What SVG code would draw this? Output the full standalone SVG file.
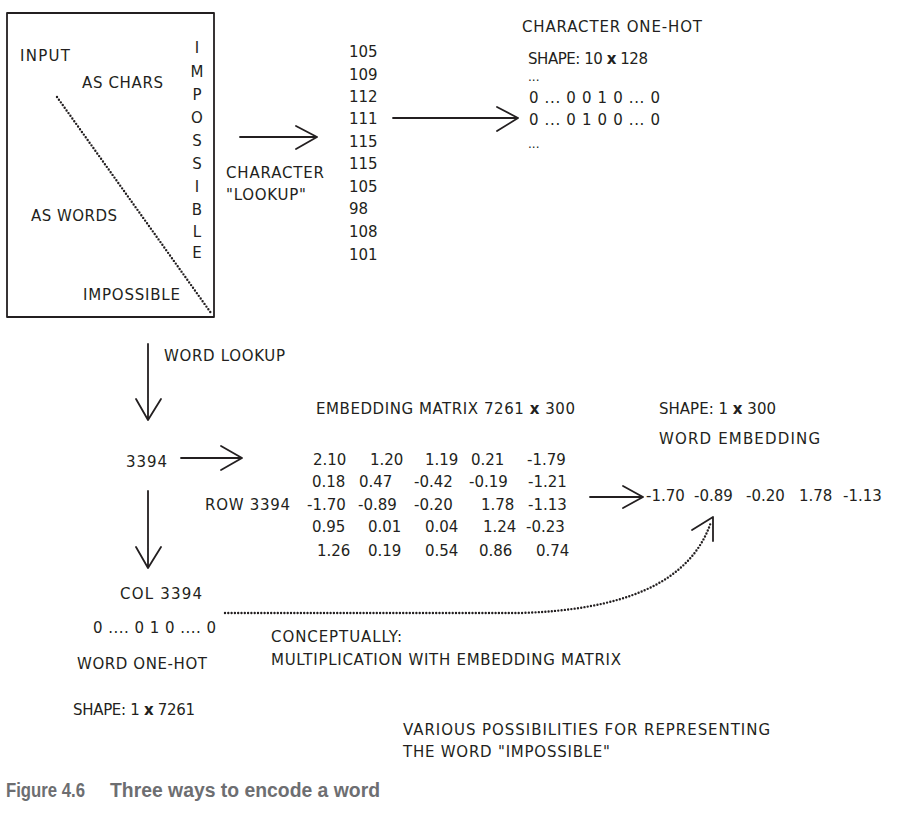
<svg xmlns="http://www.w3.org/2000/svg" width="902" height="814" viewBox="0 0 902 814">
<style>
.t{font-family:"DejaVu Sans","Liberation Sans",sans-serif;font-size:15px;fill:#231f20}
.m{text-anchor:middle}
.d{font-size:12px}
.ln{stroke:#231f20;stroke-width:1.8;fill:none;stroke-linecap:round;stroke-linejoin:round}
.dot{stroke:#231f20;stroke-width:2.4;fill:none;stroke-linecap:round;stroke-dasharray:0 3.3}
.cap{font-family:"Liberation Sans",Arial,sans-serif;font-weight:bold;font-size:20px;fill:#6d6e71}
.b{font-weight:bold}
</style>
<rect width="902" height="814" fill="#ffffff"/>

<g id="input-box">
  <rect x="7" y="13" width="207" height="304" class="ln" stroke-width="2.2"/>
  <path d="M57,97 L211,313" class="dot"/>
  <text class="t" x="20" y="61" textLength="50">INPUT</text>
  <text class="t" x="82" y="88" textLength="81">AS CHARS</text>
  <text class="t" x="31" y="221" textLength="86">AS WORDS</text>
  <text class="t" x="83" y="300" textLength="97">IMPOSSIBLE</text>
  <g class="t m">
    <text x="197" y="53">I</text>
    <text x="197" y="77">M</text>
    <text x="197" y="100">P</text>
    <text x="197" y="123">O</text>
    <text x="197" y="146">S</text>
    <text x="197" y="169">S</text>
    <text x="197" y="192">I</text>
    <text x="197" y="215">B</text>
    <text x="197" y="237">L</text>
    <text x="197" y="258">E</text>
  </g>
</g>

<g id="char-lookup-label">
  <text class="t" x="226" y="178" textLength="98">CHARACTER</text>
  <text class="t" x="226" y="200" textLength="80">"LOOKUP"</text>
</g>

<g id="char-codes" class="t">
  <text x="349" y="57">105</text>
  <text x="349" y="80">109</text>
  <text x="349" y="102">112</text>
  <text x="349" y="124">111</text>
  <text x="349" y="147">115</text>
  <text x="349" y="169">115</text>
  <text x="349" y="192">105</text>
  <text x="349" y="214">98</text>
  <text x="349" y="237">108</text>
  <text x="349" y="260">101</text>
</g>

<g id="char-one-hot">
  <text class="t" x="522" y="32" textLength="180">CHARACTER ONE-HOT</text>
  <text class="t" x="528" y="64" textLength="120">SHAPE: 10 <tspan class="b">x</tspan> 128</text>
  <text class="t d" x="528" y="81">...</text>
  <text class="t" x="529" y="103" textLength="131">0 ... 0 0 1 0 ... 0</text>
  <text class="t" x="529" y="125" textLength="131">0 ... 0 1 0 0 ... 0</text>
  <text class="t d" x="528" y="148">...</text>
</g>

<g id="word-lookup">
  <text class="t" x="164" y="361" textLength="121">WORD LOOKUP</text>
</g>

<g id="word-index">
  <text class="t" x="126" y="467" textLength="41">3394</text>
</g>

<g id="embedding-matrix" class="t">
  <text x="316" y="414" textLength="259">EMBEDDING MATRIX 7261 <tspan class="b">x</tspan> 300</text>
  <text x="205" y="510" textLength="85">ROW 3394</text>
  <text x="313" y="465">2.10</text><text x="370" y="465">1.20</text><text x="425" y="465">1.19</text><text x="471" y="465">0.21</text><text x="527" y="465">-1.79</text>
  <text x="312" y="487">0.18</text><text x="359" y="487">0.47</text><text x="414" y="487">-0.42</text><text x="469" y="487">-0.19</text><text x="528" y="487">-1.21</text>
  <text x="307" y="510">-1.70</text><text x="358" y="510">-0.89</text><text x="414" y="510">-0.20</text><text x="481" y="510">1.78</text><text x="528" y="510">-1.13</text>
  <text x="312" y="532">0.95</text><text x="368" y="532">0.01</text><text x="425" y="532">0.04</text><text x="483" y="532">1.24</text><text x="526" y="532">-0.23</text>
  <text x="317" y="556">1.26</text><text x="368" y="556">0.19</text><text x="425" y="556">0.54</text><text x="479" y="556">0.86</text><text x="536" y="556">0.74</text>
</g>

<g id="word-embedding" class="t">
  <text x="659" y="414" textLength="117">SHAPE: 1 <tspan class="b">x</tspan> 300</text>
  <text x="659" y="444" textLength="161">WORD EMBEDDING</text>
  <text x="646" y="501">-1.70</text>
  <text x="694" y="501">-0.89</text>
  <text x="746" y="501">-0.20</text>
  <text x="799" y="501">1.78</text>
  <text x="843" y="501">-1.13</text>
</g>

<g id="word-one-hot" class="t">
  <text x="120" y="599" textLength="82">COL 3394</text>
  <text x="93" y="633" textLength="123">0 .... 0 1 0 .... 0</text>
  <text x="77" y="669" textLength="130">WORD ONE-HOT</text>
  <text x="73" y="715" textLength="122">SHAPE: 1 <tspan class="b">x</tspan> 7261</text>
</g>

<g id="conceptually" class="t">
  <text x="271" y="642" textLength="131">CONCEPTUALLY:</text>
  <text x="271" y="665" textLength="350">MULTIPLICATION WITH EMBEDDING MATRIX</text>
</g>

<g id="note" class="t">
  <text x="403" y="735" textLength="367">VARIOUS POSSIBILITIES FOR REPRESENTING</text>
  <text x="403" y="757" textLength="207">THE WORD "IMPOSSIBLE"</text>
</g>

<g id="connectors">
  <path class="ln" d="M240,137 H317 M296,126 L317,137 L296,149"/>
  <path class="ln" d="M393,118 H518 M497,107 L518,118 L497,131"/>
  <path class="ln" d="M148,344 V420 M136,399 L148,420 L161,399"/>
  <path class="ln" d="M181,458 H242 M221,446 L242,458 L221,470"/>
  <path class="ln" d="M148,491 V568 M136,547 L148,568 L161,547"/>
  <path class="ln" d="M590,497 H643 M623,486 L643,497 L623,508"/>
  <path class="dot" d="M225,613 H520 C620,610 690,585 711,522"/>
  <path class="ln" d="M713,541 V517 L692,530"/>
</g>

<text class="cap" x="6" y="797"><tspan textLength="79" lengthAdjust="spacingAndGlyphs">Figure 4.6</tspan><tspan x="110" textLength="270" lengthAdjust="spacingAndGlyphs">Three ways to encode a word</tspan></text>
</svg>
